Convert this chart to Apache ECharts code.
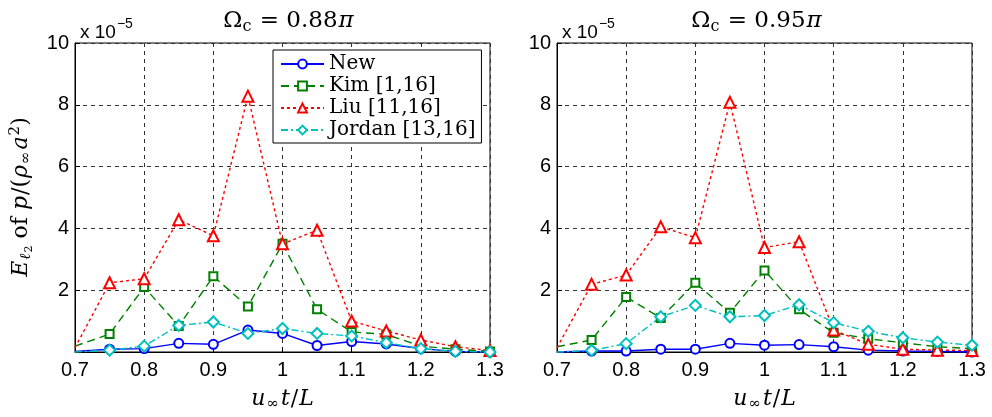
<!DOCTYPE html>
<html><head><meta charset="utf-8">
<script src="https://cdn.jsdelivr.net/npm/echarts@6/dist/echarts.min.js"></script>
<style>html,body{margin:0;padding:0;background:#fff}#c{width:992px;height:417px}</style>
</head><body><div id="c"></div>
<script>
var xs = [0.7,0.75,0.8,0.85,0.9,0.95,1.0,1.05,1.1,1.15,1.2,1.25,1.3];
var seriesNames = ['New','Kim [1,16]','Liu [11,16]','Jordan [13,16]'];
var panelTitles = ['0.88', '0.95'];
var yTicks = [0,2,4,6,8,10];
// panel 1 (Omega_c = 0.88 pi), values in units of 1e-5
var newA    = [0.02,0.09,0.11,0.28,0.25,0.71,0.60,0.21,0.34,0.26,0.11,0.02,0.00];
var kimA    = [0.19,0.58,2.10,0.84,2.45,1.47,3.50,1.38,0.65,0.57,0.19,0.09,0.02];
var liuA    = [0.14,2.24,2.37,4.28,3.76,8.28,3.50,3.94,1.00,0.68,0.39,0.17,0.05];
var jordanA = [0.00,0.06,0.19,0.86,0.97,0.60,0.76,0.60,0.52,0.30,0.11,0.02,0.00];
// panel 2 (Omega_c = 0.95 pi)
var newB    = [0.00,0.03,0.03,0.09,0.09,0.28,0.22,0.24,0.17,0.06,0.03,0.02,0.00];
var kimB    = [0.17,0.39,1.78,1.10,2.24,1.27,2.64,1.38,0.62,0.43,0.30,0.17,0.11];
var liuB    = [0.14,2.19,2.49,4.05,3.70,8.08,3.38,3.57,0.71,0.25,0.09,0.06,0.05];
var jordanB = [0.00,0.05,0.27,1.14,1.51,1.14,1.18,1.53,0.95,0.67,0.46,0.32,0.22];

var SERIF = 'DejaVu Serif';
var styles = [
  {color:'#0000ff', type:'solid', symbol:'emptyCircle', size:9},
  {color:'#008000', type:[8,5], symbol:'emptyRect', size:8},
  {color:'#ff0000', type:[3,3], symbol:'emptyTriangle', size:11},
  {color:'#00bfbf', type:[7,3,2,3], symbol:'emptyDiamond', size:11}
];
function pairs(v){
  return xs.map(function(x,i){
    return i === 0 ? {value:[x, v[i]], symbol:'none'} : [x, v[i]];
  });
}
var panels = [[newA,kimA,liuA,jordanA],[newB,kimB,liuB,jordanB]];
var series = [];
panels.forEach(function(p, gi){
  p.forEach(function(vals, si){
    var s = styles[si];
    series.push({
      name: seriesNames[si], type:'line', xAxisIndex:gi, yAxisIndex:gi,
      data: pairs(vals), symbol: s.symbol, symbolSize: s.size, clip:false,
      lineStyle:{color:s.color, width:1.4, type:s.type},
      itemStyle:{color:s.color, borderWidth:1.4},
      emphasis:{disabled:true}, animation:false
    });
  });
});
var grids = [
  {left:75, top:43, width:415, height:310, show:true, borderColor:'#000', borderWidth:1},
  {left:557, top:43, width:415, height:310, show:true, borderColor:'#000', borderWidth:1}
];
function rich(fs){
  var sfs = Math.round(fs*0.68);
  return {
    i:{fontFamily:SERIF, fontStyle:'italic', fontWeight:'normal', fontSize:fs, color:'#000', padding:[0,1,0,1]},
    r:{fontFamily:SERIF, fontWeight:'normal', fontSize:fs, color:'#000'},
    sp:{fontFamily:SERIF, fontWeight:'normal', fontSize:fs, color:'#000', padding:[0,6,0,6]},
    sub:{fontFamily:SERIF, fontStyle:'italic', fontWeight:'normal', fontSize:sfs, color:'#000', padding:[Math.round(fs*0.5),1,0,0]},
    subr:{fontFamily:SERIF, fontWeight:'normal', fontSize:sfs, color:'#000', padding:[Math.round(fs*0.5),1,0,0]},
    sup:{fontFamily:SERIF, fontWeight:'normal', fontSize:sfs, color:'#000', padding:[0,0,Math.round(fs*0.5),0]},
    tiny:{fontFamily:SERIF, fontWeight:'normal', fontSize:Math.round(fs*0.5), color:'#000', padding:[Math.round(fs*0.75),1,0,0]}
  };
}
function xAxis(gi){
  return {type:'value', gridIndex:gi, min:0.7, max:1.3, interval:0.1,
    axisLine:{show:true, onZero:false, lineStyle:{color:'#000', width:1}},
    axisTick:{show:true, inside:true, length:5, lineStyle:{color:'#000'}},
    axisLabel:{fontFamily:'Liberation Sans', fontSize:20, color:'#000', margin:8,
      formatter:function(v){ return String(Math.round(v*10)/10); }},
    splitLine:{show:true, lineStyle:{color:'#333', type:[4,4], width:1}},
    name:'{i|u}{sub|∞}{i|t}{r|/}{i|L}', nameLocation:'middle', nameGap:34,
    nameTextStyle:{rich:rich(22)}
  };
}
function yAxis(gi){
  var a = {type:'value', gridIndex:gi, min:0, max:10, interval:2,
    axisLine:{show:true, lineStyle:{color:'#000', width:1}},
    axisTick:{show:true, inside:true, length:5, lineStyle:{color:'#000'}},
    axisLabel:{fontFamily:'Liberation Sans', fontSize:20, color:'#000', margin:6,
      formatter:function(v){ return v===0 ? '' : String(v); }},
    splitLine:{show:true, lineStyle:{color:'#333', type:[4,4], width:1}}
  };
  if (gi===0){
    a.name = '{i|E}{sub|ℓ}{tiny|2}{sp|of}{i|p}{r|/(}{i|ρ}{sub|∞}{i|a}{sup|2}{r|)}';
    a.nameLocation = 'middle'; a.nameGap = 40;
    a.nameTextStyle = {rich: rich(22)};
  }
  return a;
}
var titles = [];
panelTitles.forEach(function(t, gi){
  titles.push({
    text:'{r|Ω}{subr|c}{r| = '+t+'}{i|π}', left: gi===0 ? 284 : 752, top:2, textAlign:'center',
    textStyle:{fontWeight:'normal', rich:rich(23)}
  });
  titles.push({
    text:'{s|x 10}{e|−5}', left: gi===0 ? 75 : 557, top:10,
    textStyle:{fontWeight:'normal', rich:{
      s:{fontFamily:'Liberation Sans', fontWeight:'normal', fontSize:19, color:'#000', padding:[8,0,0,0]},
      e:{fontFamily:'Liberation Sans', fontWeight:'normal', fontSize:14, color:'#000', padding:[0,0,8,1]}
    }}
  });
});
var chart = echarts.init(document.getElementById('c'), null, {renderer:'canvas'});
chart.setOption({
  animation:false,
  backgroundColor:'#fff',
  title: titles,
  grid: grids,
  xAxis: [xAxis(0), xAxis(1)],
  yAxis: [yAxis(0), yAxis(1)],
  legend: {
    data: seriesNames, orient:'vertical', left:273, top:50,
    backgroundColor:'#fff', borderColor:'#000', borderWidth:1, borderRadius:0,
    padding:[4,6,3,7], itemGap:2, itemWidth:43, itemHeight:11,
    textStyle:{fontFamily:SERIF, fontSize:20, color:'#000'},
    selectedMode:false
  },
  series: series
});
</script></body></html>
